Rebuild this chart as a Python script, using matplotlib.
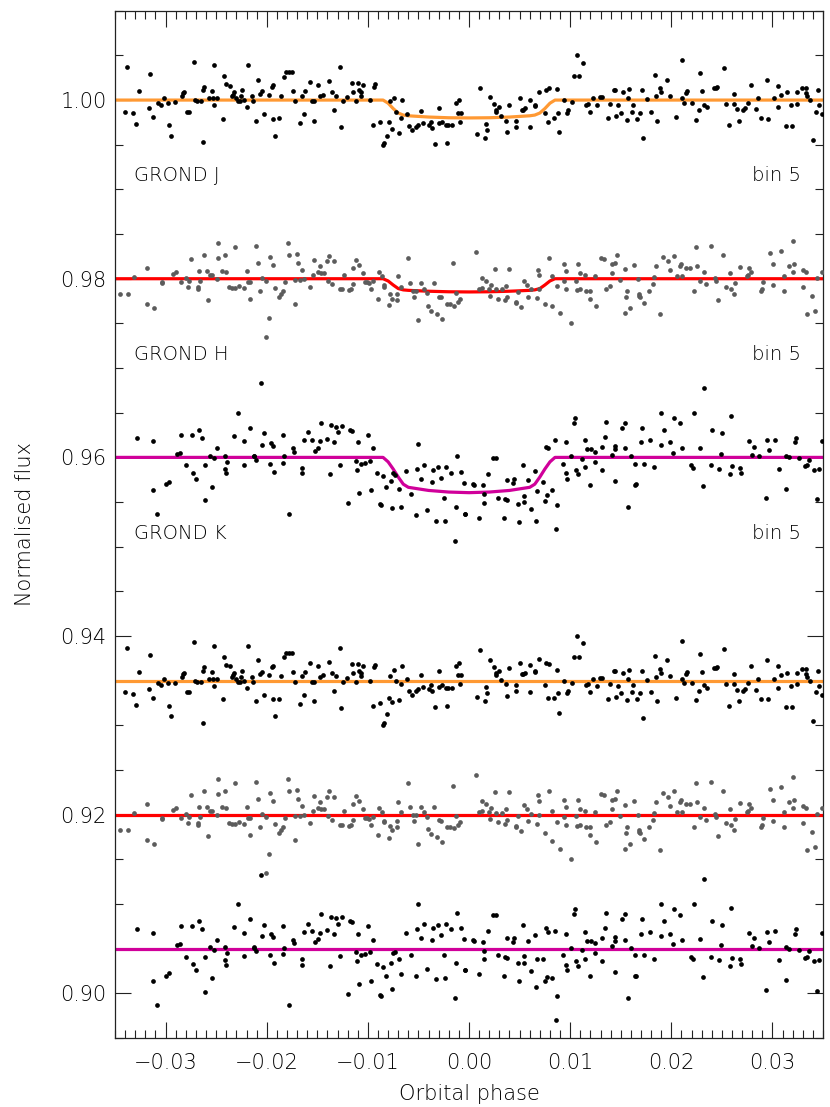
import numpy as np
import matplotlib
matplotlib.use("Agg")
import matplotlib.pyplot as plt
import matplotlib.ticker as ticker

# phases in units of 1e-4, flux deviations from the model baseline in units of 1e-4
j_phase = [
    -340, -338, -332, -329, -326, -316, -315, -312, -308, -305,
    -302, -298, -297, -295, -291, -284, -283, -282, -279, -277,
    -272, -271, -269, -265, -263, -263, -262, -257, -254, -253,
    -252, -252, -249, -243, -242, -240, -236, -234, -233, -232,
    -230, -228, -226, -225, -224, -222, -220, -219, -215, -214,
    -211, -209, -207, -205, -203, -198, -195, -194, -194, -192,
    -188, -186, -183, -181, -178, -175, -174, -172, -167, -165,
    -163, -162, -157, -155, -153, -153, -149, -147, -144, -138,
    -135, -134, -132, -128, -127, -125, -121, -116, -115, -112,
    -110, -109, -107, -107, -105, -98, -95, -94, -93, -88,
    -85, -84, -81, -79, -78, -76, -74, -72, -69, -67,
    -66, -61, -59, -56, -52, -50, -47, -46, -40, -38,
    -37, -34, -30, -30, -27, -23, -22, -21, -17, -13,
    -11, -10, -9, -8,
    8, 11, 16, 17, 18, 21, 25, 27, 27, 30,
    32, 37, 38, 40, 46, 46, 50, 52, 53, 55,
    60, 60, 65, 65, 69, 75, 76, 78, 79, 84,
    87, 88, 89, 94, 97, 98, 102, 104, 107, 109,
    113, 116, 118, 120, 123, 127, 129, 131, 137, 139,
    143, 144, 145, 147, 150, 152, 156, 157, 158, 161,
    162, 166, 169, 171, 172, 176, 180, 184, 185, 186,
    189, 190, 196, 199, 205, 211, 211, 213, 215, 216,
    220, 224, 227, 228, 230, 232, 235, 242, 244, 245,
    252, 254, 257, 262, 262, 265, 267, 271, 273, 276,
    279, 284, 286, 289, 295, 296, 302, 305, 305, 308,
    313, 314, 318, 319, 324, 324, 329, 333, 333, 334,
    337, 340, 343, 345, 346, 349,
]
j_dev = [
    -13, 37, -15, -27, 10, -9, 29, -19, -3, -5,
    2, -3, -28, -40, -2, 4, 8, 9, -13, -13,
    43, 0, -1, -1, -47, 11, 15, 2, 10, 2,
    39, -6, 2, -21, 27, 18, 16, 4, 6, 9,
    2, -1, -1, 4, 11, 0, -8, 39, 4, -1,
    -23, 23, 7, 10, -16, 6, 15, -21, 17, -40,
    -20, 5, 26, 31, 31, 31, 10, -1, -26, 5,
    -16, 10, 20, -1, -1, -23, 17, 4, 6, 21,
    9, -11, 5, 37, -30, -1, 3, 19, 9, -1,
    19, 11, 9, 5, 17, 0, -28, 15, 18, -25,
    -50, -48, -40, -24, -1, -32, 2, -13, -37, -20,
    0, -16, -29, -34, -30, -28, -12, -26, -28, -24,
    -31, -49, -9, -26, -24, -28, -48, -28, -28, -3,
    -14, 0, -24, -14,
    -38, 14, -43, -27, -34, 3, -4, -13, -11, -8,
    -18, -23, -36, -5, -23, -30, 2, -11, -11, -9,
    0, -30, -6, -7, 9, -14, 11, -25, 14, -20,
    12, -14, -36, 0, -14, -11, -2, 27, 50, 27,
    42, -5, -4, -13, 2, -6, 3, 3, -20, -4,
    11, 11, -18, -6, -14, 9, -22, 2, 12, -13,
    -5, -21, -14, 11, -42, 1, -13, 28, 4, -23,
    13, 9, 23, 5, -19, 45, 2, -3, 8, 10,
    -3, -22, -11, 30, 10, -5, -8, 14, 14, 15,
    36, -4, -28, -4, 7, -10, -23, -11, -9, -3,
    17, -10, 2, -20, 23, -21, 2, 16, -8, 6,
    -29, 9, -6, -29, 9, -4, 13, 13, 8, 4,
    0, -45, -13, 11, -6, -16,
]

h_phase = [
    -345, -337, -331, -318, -318, -311, -304, -304, -293, -290,
    -285, -280, -278, -277, -275, -268, -268, -267, -266, -262,
    -259, -258, -256, -254, -249, -248, -248, -244, -241, -240,
    -237, -234, -231, -231, -227, -222, -220, -219, -217, -217,
    -211, -209, -207, -205, -201, -201, -198, -197, -194, -192,
    -188, -186, -184, -182, -179, -178, -172, -172, -170, -169,
    -167, -165, -163, -157, -154, -153, -149, -147, -146, -143,
    -140, -139, -138, -135, -134, -128, -126, -124, -119, -117,
    -115, -115, -112, -109, -105, -103, -101, -99, -97, -95,
    -90, -89, -86, -84, -84, -79, -78, -76, -71, -71,
    -70, -67, -60, -58, -55, -54, -52, -50, -47, -45,
    -42, -41, -38, -35, -32, -30, -28, -27, -22, -19,
    -16, -15, -13, -11, -9,
    7, 10, 13, 13, 17, 20, 21, 22, 26, 27,
    29, 33, 36, 37, 38, 40, 46, 46, 48, 51,
    54, 57, 58, 61, 67, 68, 69, 69, 75, 79,
    82, 82, 87, 90, 94, 94, 96, 96, 101, 106,
    107, 108, 110, 110, 115, 116, 120, 120, 125, 126,
    130, 133, 135, 139, 141, 141, 144, 146, 149, 154,
    154, 155, 156, 159, 163, 167, 168, 168, 169, 173,
    178, 182, 183, 185, 189, 192, 197, 199, 203, 206,
    209, 210, 211, 215, 218, 222, 224, 225, 228, 232,
    234, 239, 243, 244, 246, 251, 254, 258, 259, 262,
    263, 268, 275, 276, 277, 279, 289, 290, 291, 298,
    301, 301, 308, 311, 311, 316, 320, 320, 321, 330,
    330, 333, 334, 339, 342, 344, 349,
]
h_dev = [
    -17, -17, 2, 12, -28, -33, -5, -4, 5, 7,
    -4, 1, -9, -3, 22, -9, -11, 9, -3, 27,
    9, -24, 4, 4, 0, 23, 40, 9, 27, 7,
    -9, -10, 36, -10, -8, -10, 9, -4, -23, -4,
    37, 18, -14, 1, -3, -65, -44, 24, 15, -10,
    -21, -17, -14, -4, 40, 27, -1, -28, 28, 18,
    -1, 10, 0, -9, 4, 21, 8, 14, 6, 6,
    20, -2, 26, -6, 20, -11, -11, 4, -13, -11,
    -6, 12, 21, 15, 6, -4, -4, -5, -12, -3,
    -23, 7, 3, -9, -7, -29, -17, -23, -17, -24,
    3, -9, 23, -5, -14, -20, -14, -46, -5, -11,
    -16, -30, -36, -5, -39, -20, -21, -45, -28, -28,
    18, -30, -16, -26, -23,
    30, -12, 1, -10, -3, -12, -19, -7, 11, -12,
    -23, -12, -24, -8, -20, 11, -26, -27, -15, -32,
    -2, -7, -20, -12, -22, 10, 4, -12, -28, 23,
    3, -31, -8, -38, -3, 17, 9, -11, -50, -2,
    -13, 17, -12, 6, 4, -14, -14, -23, 3, -30,
    23, 22, -12, -8, 6, 17, 18, 27, -1, 11,
    -38, -21, -14, -33, 15, 0, -17, -19, -21, -27,
    -14, -6, 2, 14, -39, 24, 20, 10, 26, 3,
    14, 17, 3, 12, 12, -14, 36, 14, -3, 7,
    -6, 37, 1, -3, -24, 27, -9, 6, -12, -17,
    -5, 13, 3, 4, 12, 7, -14, -12, -4, 29,
    16, -7, 31, -14, 3, 14, 42, 7, 17, -9,
    10, 7, -39, -19, -36, 1, 7,
]

k_phase = [
    -328, -312, -312, -309, -300, -297, -289, -286, -285, -280,
    -274, -273, -270, -267, -264, -261, -261, -256, -254, -252,
    -249, -241, -241, -239, -240, -232, -228, -222, -222, -217,
    -213, -213, -211, -206, -205, -203, -197, -196, -194, -193,
    -184, -184, -183, -178, -174, -173, -165, -165, -163, -159,
    -155, -152, -149, -147, -146, -140, -137, -136, -134, -132,
    -130, -128, -126, -120, -118, -116, -112, -111, -110, -109,
    -107, -103, -100, -98, -97, -95, -91, -88, -87, -85,
    -82, -77, -76, -75, -73, -69, -67, -62, -57, -52,
    -51, -50, -47, -45, -42, -37, -36, -33, -31, -28,
    -25, -24, -23, -18, -14, -13, -12, -8, -5, -4,
    -4, 4, 5, 10, 14, 15, 15, 19, 24, 27,
    29, 35, 36, 38, 38, 43, 44, 48, 49, 53,
    54, 54, 58, 61, 65, 66, 67, 73, 75, 76,
    78, 77, 82, 85, 86, 87, 93, 96, 96, 97,
    101, 104, 105, 106, 108, 112, 115, 115, 117, 120,
    121, 125, 125, 131, 131, 134, 135, 141, 144, 144,
    144, 151, 154, 154, 157, 160, 164, 164, 165, 170,
    171, 173, 179, 183, 190, 190, 193, 199, 202, 203,
    209, 211, 219, 221, 222, 228, 231, 232, 239, 240,
    247, 249, 250, 258, 259, 260, 268, 269, 277, 280,
    282, 287, 294, 295, 297, 303, 306, 313, 313, 316,
    322, 323, 326, 332, 334, 336, 341, 344, 346, 349,
]
k_dev = [
    22, 18, -36, -63, -30, -27, 4, 5, 25, -9,
    25, -17, -24, 31, 22, -9, -48, 2, -33, -1,
    10, 2, -13, -5, -18, 24, 50, 18, -8, 33,
    2, 1, -3, 83, 14, 27, -7, 16, 13, -16,
    25, -6, 1, -63, 10, 6, -12, -18, 19, 28,
    20, 7, 11, 18, 39, 21, -19, 36, 17, 34,
    28, -8, 35, -51, 31, 30, -4, -14, 17, -40,
    -7, -6, 25, -4, -36, 10, -17, -52, -53, -21,
    -33, -26, -57, -18, -20, -35, -55, -15, -41, -65,
    -13, 15, -24, -8, -59, -28, -14, -71, -11, -23,
    -45, -71, -11, -17, -94, -55, 1, -16, -29, -63,
    -63, -30, -31, -68, -31, -41, -51, -19, -1, -1,
    -45, -68, -47, -48, -25, -29, -24, -52, -72, -8,
    -50, -43, -25, -58, -15, -71, -38, -28, -49, 12,
    11, -42, -36, 20, -80, -53, -7, -18, 17, -24,
    1, 39, 44, -14, -19, -2, -11, 19, 9, -31,
    9, -5, 6, -14, 12, 23, 40, 3, 9, 13,
    -26, 33, 39, 10, -55, 1, -7, -31, -30, 17,
    33, -7, 19, -11, 50, 14, 31, 17, 5, 44,
    38, 10, -9, -12, 50, 11, -32, 78, -9, 31,
    -13, 4, 27, -19, 46, -10, -12, -17, 18, 3,
    12, 1, -46, 19, 8, 20, -13, -35, 2, 0,
    17, 22, -1, -10, -9, -3, -14, -47, -13, 18,
]

# transit models, depth below baseline in units of 1e-3 at the given phases
model_phase = [-0.035, -0.0085, -0.0080, -0.0075, -0.0070, -0.0065, -0.0060,
               -0.0040, -0.0020, 0.0, 0.0020, 0.0040, 0.0060, 0.0065,
               0.0070, 0.0075, 0.0080, 0.0085, 0.035]
j_depth = [0, 0, 0.35, 0.95, 1.45, 1.68, 1.76, 1.90, 1.98, 2.00,
           1.98, 1.90, 1.76, 1.68, 1.45, 0.95, 0.35, 0, 0]
h_depth = [0, 0, 0.25, 0.70, 1.10, 1.25, 1.30, 1.40, 1.46, 1.48,
           1.46, 1.40, 1.30, 1.25, 1.10, 0.70, 0.25, 0, 0]
k_depth = [0, 0, 0.50, 1.30, 2.20, 3.00, 3.35, 3.70, 3.88, 3.95,
           3.88, 3.70, 3.35, 3.00, 2.20, 1.30, 0.50, 0, 0]

bands = ["GROND J", "GROND H", "GROND K"]
light_base = [1.000, 0.980, 0.960]
resid_base = [0.935, 0.920, 0.905]
point_colors = ["black", "#5c5c5c", "black"]
model_colors = ["#FF9933", "#FF0000", "#D0009A"]

txt = "#000000"
fs = 15


def main():
    plt.rcParams["font.weight"] = "light"
    plt.rcParams["axes.labelweight"] = "light"
    fig = plt.figure(figsize=(8.3, 11.07), dpi=100)
    ax = fig.add_axes([0.1386, 0.0623, 0.853, 0.928])

    mph = np.array(model_phase)
    series = [(j_phase, j_dev, j_depth), (h_phase, h_dev, h_depth),
              (k_phase, k_dev, k_depth)]

    for i, (ph, dv, dp) in enumerate(series):
        x = np.array(ph) * 1e-4
        flux = light_base[i] + np.array(dv) * 1e-4
        model = -np.array(dp) * 1e-3
        model_at_x = np.interp(x, mph, model)
        resid = flux - light_base[i] - model_at_x

        # light curve + model
        ax.plot(mph, light_base[i] + model, color=model_colors[i], lw=2.3,
                zorder=2, solid_capstyle="butt")
        ax.plot(x, flux, "o", color=point_colors[i], ms=3.4, mew=0, zorder=3)

        # residuals
        ax.plot([-0.035, 0.035], [resid_base[i]] * 2, color=model_colors[i],
                lw=2.3, zorder=2)
        ax.plot(x, resid_base[i] + resid, "o", color=point_colors[i], ms=3.4,
                mew=0, zorder=3)

        ax.text(-0.0331, light_base[i] - 0.0085, bands[i], fontsize=fs - 1,
                color=txt, ha="left", va="center")
        ax.text(0.0328, light_base[i] - 0.0085, "bin 5", fontsize=fs - 1,
                color=txt, ha="right", va="center")

    ax.set_xlim(-0.035, 0.035)
    ax.set_ylim(0.895, 1.010)

    ax.xaxis.set_major_locator(ticker.MultipleLocator(0.01))
    ax.xaxis.set_minor_locator(ticker.MultipleLocator(0.001))
    ax.yaxis.set_major_locator(ticker.MultipleLocator(0.02))
    ax.yaxis.set_minor_locator(ticker.MultipleLocator(0.005))

    def fmt(v, pos):
        if abs(v) < 1e-9:
            v = 0.0
        return f"{v:.2f}".replace("-", "\u2212")

    ax.xaxis.set_major_formatter(ticker.FuncFormatter(fmt))
    ax.yaxis.set_major_formatter(ticker.FuncFormatter(fmt))

    ax.tick_params(which="both", direction="in", top=True, right=True,
                   width=0.8, color="#222222", labelcolor=txt, labelsize=fs)
    ax.tick_params(which="major", length=11.5)
    ax.tick_params(which="minor", length=5.5)
    ax.tick_params(axis="x", which="major", pad=11)
    ax.tick_params(axis="y", which="major", pad=6)
    for sp in ax.spines.values():
        sp.set_color("#222222")
        sp.set_linewidth(0.9)

    ax.set_xlabel("Orbital phase", fontsize=fs, color=txt, fontweight="light")
    ax.set_ylabel("Normalised flux", fontsize=fs, color=txt, fontweight="light")
    ax.xaxis.set_label_coords(0.5, -0.045)
    ax.yaxis.set_label_coords(-0.113, 0.5)

    fig.savefig("out.png", dpi=100)


if __name__ == "__main__":
    main()
